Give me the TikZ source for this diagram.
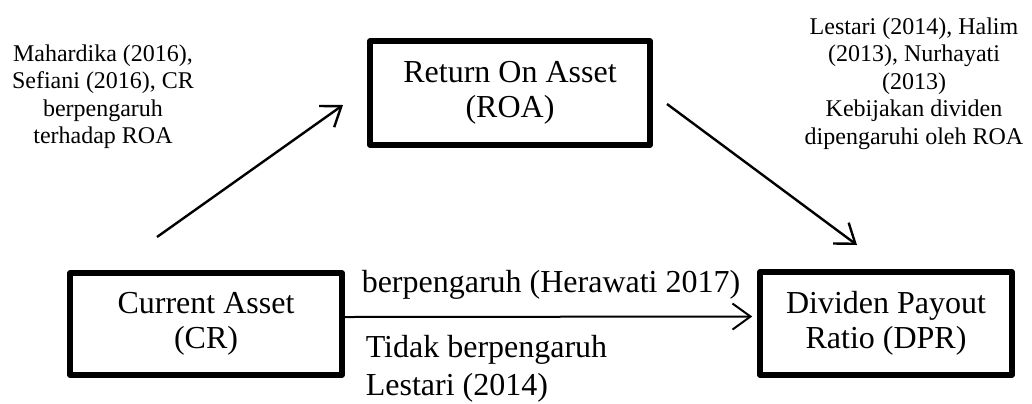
\documentclass[tikz,border=0pt]{standalone}
\usepackage{fontspec}
\setmainfont{Liberation Serif}
\usetikzlibrary{arrows.meta}

\begin{document}
\begin{tikzpicture}[>={Straight Barb[length=9pt,width=13pt]},x=0.5pt,y=-0.5pt,
  var/.style={draw,line width=2.8pt,line join=round,align=center,
    font=\fontsize{16}{17.5}\selectfont},
  note/.style={align=center,inner sep=0pt,font=\fontsize{12}{13.8}\selectfont},
  lbl/.style={inner sep=0pt,font=\fontsize{16}{19}\selectfont}]
\useasboundingbox (0,0) rectangle (1032,403);
% variables
\node[var,minimum width=136pt,minimum height=51pt] (cr) at (206,324) {Current Asset\\(CR)};
\node[var,minimum width=140pt,minimum height=52pt] (roa) at (510,93) {Return On Asset\\(ROA)};
\node[var,minimum width=126pt,minimum height=51.5pt] (dpr) at (886,323.5) {Dividen Payout\\Ratio (DPR)};
% notes
\node[note,anchor=north] (n1) at (103,44) {Mahardika (2016),\\Sefiani (2016), CR\\berpengaruh\\terhadap ROA};
\node[note,anchor=north] (n2) at (914,17) {Lestari (2014), Halim\\(2013), Nurhayati\\(2013)\\Kebijakan dividen\\dipengaruhi oleh ROA};
% arrows
\coordinate (a1) at (157,237); \coordinate (a2) at (343,105);
\coordinate (b1) at (667,104); \coordinate (b2) at (857,245);
\draw[->,line width=1.2pt] (a1)--(a2);
\draw[->,line width=1.2pt] (b1)--(b2);
\draw[->,line width=1pt,shorten >=2.5pt] ([yshift=3.5pt]cr.east)--
  node[lbl,above=8pt]{berpengaruh (Herawati 2017)}
  node[lbl,pos=0,anchor=north west,xshift=10pt,yshift=-8.5pt,align=left]{Tidak berpengaruh\\Lestari (2014)}
  ([yshift=3.5pt]dpr.west);
\end{tikzpicture}
\end{document}
